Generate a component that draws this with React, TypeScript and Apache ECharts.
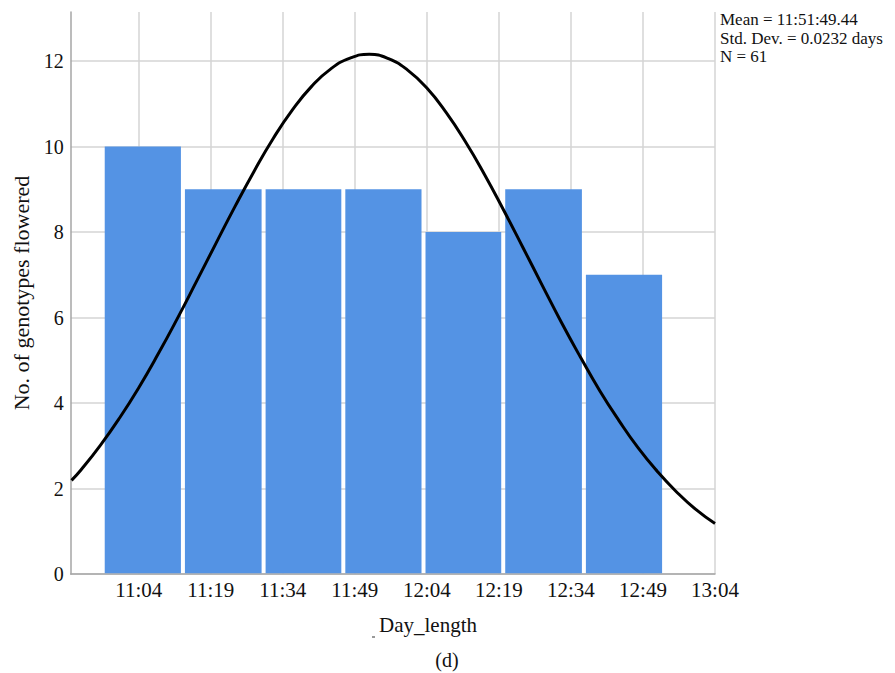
import React, { useEffect, useRef } from "react";
import * as echarts from "echarts";

// Histogram bins (minutes after midnight) and counts
const binEdges = [656.5, 673.2, 690.0, 706.6, 723.3, 739.9, 756.7, 773.4];
const counts = [10, 9, 9, 9, 8, 9, 7];
// x tick positions (minutes after midnight): 11:04 ... 13:04
const tickMinutes = [664, 679, 694, 709, 724, 739, 754, 769, 784];
const yTicks = [0, 2, 4, 6, 8, 10, 12];
// Normal curve
const curveX = [650, 652, 656, 660, 664, 668, 672, 676, 680, 684, 688, 692, 696, 700, 704, 708, 712, 716, 720, 724, 728, 732, 736, 740, 744, 748, 752, 756, 760, 764, 768, 772, 776, 780, 784];
const curveY = [2.19, 2.44, 3.01, 3.65, 4.36, 5.14, 5.97, 6.84, 7.72, 8.59, 9.42, 10.19, 10.86, 11.41, 11.82, 12.07, 12.16, 12.06, 11.79, 11.37, 10.8, 10.12, 9.35, 8.51, 7.64, 6.76, 5.89, 5.07, 4.29, 3.59, 2.95, 2.4, 1.92, 1.51, 1.18];
const statLines = ["Mean = 11:51:49.44", "Std. Dev. = 0.0232 days", "N = 61"];

const FONT = "'Liberation Serif', 'Times New Roman', serif";

const fmt = (m: number) => {
  const h = Math.floor(m / 60);
  const mm = Math.round(m - h * 60);
  return `${h}:${String(mm).padStart(2, "0")}`;
};

export default function App() {
  const ref = useRef<HTMLDivElement>(null);
  useEffect(() => {
    if (!ref.current) return;
    const chart = echarts.init(ref.current, undefined, { renderer: "svg" });
    const barData = counts.map((c, i) => [binEdges[i], binEdges[i + 1], c]);
    const lineData = curveX.map((x, i) => [x, curveY[i]]);
    chart.setOption({
      animation: false,
      backgroundColor: "#ffffff",
      grid: { left: 70.7, right: 180, top: 12, bottom: 99, containLabel: false },
      xAxis: {
        type: "value",
        min: 649.83,
        max: 784,
        axisLine: { show: true, lineStyle: { color: "#a6a6a6", width: 1.5 } },
        axisTick: { show: false, customValues: tickMinutes },
        axisLabel: {
          customValues: tickMinutes,
          formatter: (v: number) => fmt(v),
          color: "#111",
          fontFamily: FONT,
          fontSize: 21,
          margin: 5,
        },
        splitLine: { show: true, lineStyle: { color: "#d4d4d4", width: 1.5 } },
      },
      yAxis: {
        type: "value",
        min: 0,
        max: 13.15,
        axisLine: { show: true, lineStyle: { color: "#a6a6a6", width: 1.5 } },
        axisTick: { show: false, customValues: yTicks },
        axisLabel: {
          customValues: yTicks,
          color: "#111",
          fontFamily: FONT,
          fontSize: 20,
          margin: 7,
        },
        splitLine: { show: true, lineStyle: { color: "#d4d4d4", width: 1.5 } },
        name: "No. of genotypes flowered",
        nameLocation: "middle",
        nameGap: 35,
        nameTextStyle: { color: "#111", fontFamily: FONT, fontSize: 22 },
      },
      series: [
        {
          type: "custom",
          data: barData,
          encode: { x: [0, 1], y: 2 },
          z: 2,
          renderItem: (params: any, api: any) => {
            const p0 = api.coord([api.value(0), api.value(2)]);
            const p1 = api.coord([api.value(1), 0]);
            return {
              type: "rect",
              shape: {
                x: p0[0] + 2,
                y: p0[1],
                width: p1[0] - p0[0] - 4,
                height: p1[1] - p0[1] - 0.75,
              },
              style: { fill: "#5493e4" },
            };
          },
        },
        {
          type: "line",
          data: lineData,
          smooth: 0.5,
          symbol: "none",
          z: 5,
          lineStyle: { color: "#000", width: 3 },
        },
      ],
      graphic: [
        {
          type: "text",
          left: 720,
          top: 10,
          style: {
            text: statLines.join("\n"),
            fill: "#111",
            font: `17px ${FONT}`,
            lineHeight: 18.7,
          },
        },
        {
          type: "text",
          x: 428,
          y: 625,
          style: {
            text: "Day_length",
            fill: "#111",
            font: `21px ${FONT}`,
            align: "center",
            verticalAlign: "middle",
          },
        },
        {
          type: "line",
          shape: { x1: 372, y1: 637, x2: 375, y2: 637 },
          style: { stroke: "#555", lineWidth: 1.2 },
        },
        {
          type: "text",
          x: 447,
          y: 660,
          style: {
            text: "(d)",
            fill: "#111",
            font: `20px ${FONT}`,
            align: "center",
            verticalAlign: "middle",
          },
        },
      ],
    });
    return () => chart.dispose();
  }, []);
  return (
    <div
      ref={ref}
      style={{ position: "fixed", left: 0, top: 0, width: 895, height: 673 }}
    />
  );
}
